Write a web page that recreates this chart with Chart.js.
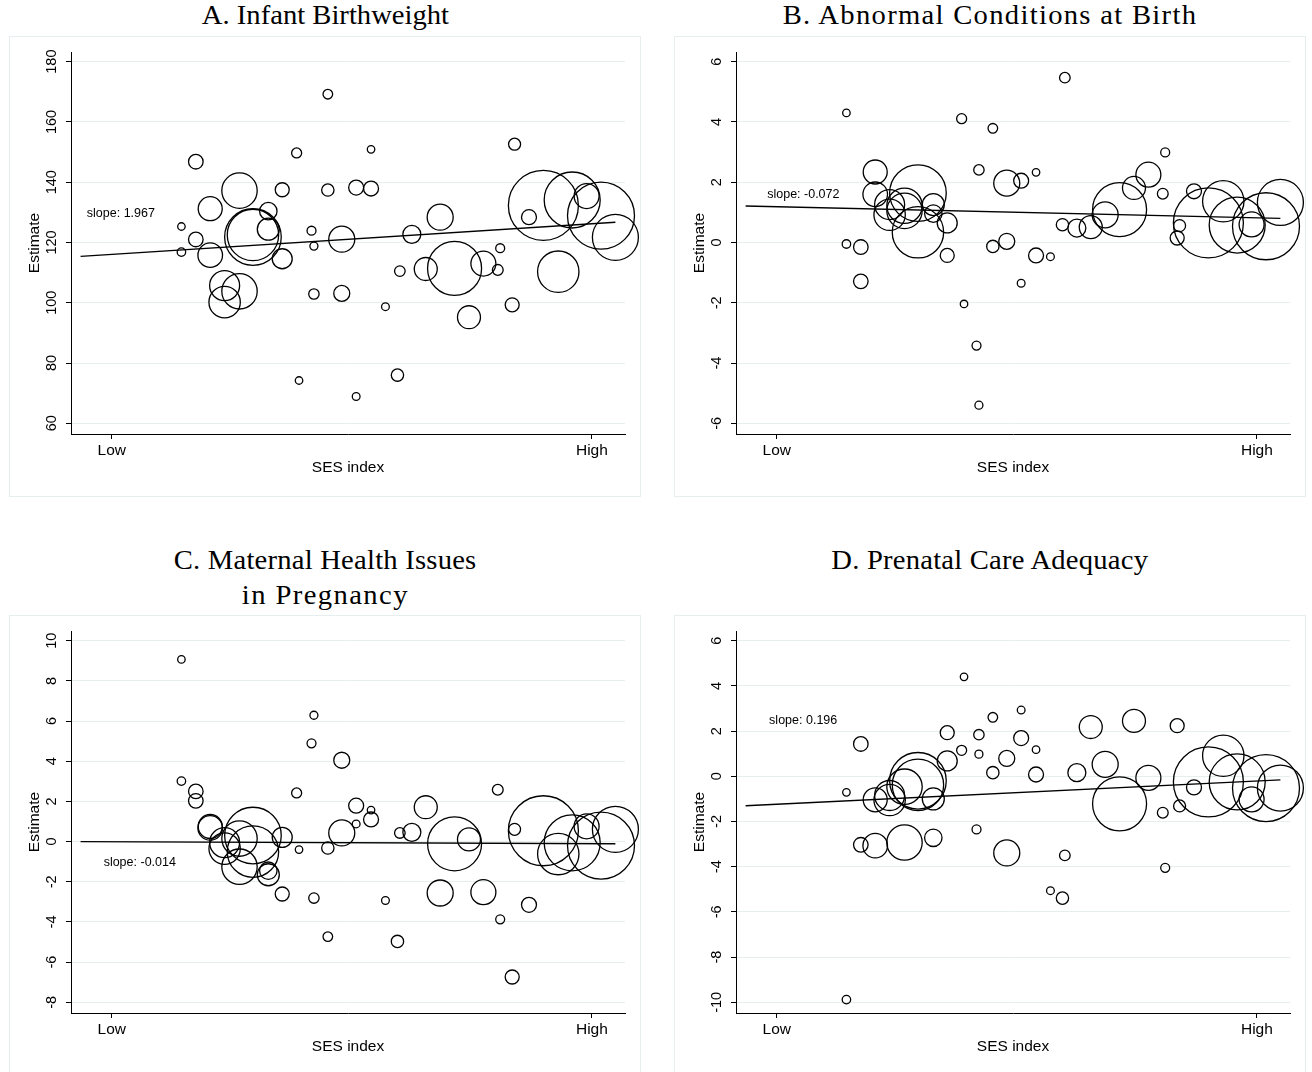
<!DOCTYPE html>
<html><head><meta charset="utf-8"><title>Estimates by SES index</title>
<script src="https://cdn.jsdelivr.net/npm/chart.js@4.4.1/dist/chart.umd.min.js"></script>
<style>
html,body{margin:0;padding:0;background:#fff;}
body{width:1312px;height:1072px;position:relative;overflow:hidden;}
.title{position:absolute;width:632px;text-align:center;font-family:"Liberation Serif","Times New Roman",serif;font-size:26.5px;line-height:35.5px;color:#000;white-space:nowrap;}
.title span{display:inline-block;transform:scaleX(1.08);transform-origin:50% 50%;}
.box{position:absolute;width:630px;height:459px;border:1px solid #e6eef0;}
.cv{position:absolute;}
</style></head><body>
<div class="title" style="left:9px;top:-1.7px"><span style="letter-spacing:0px">A. Infant Birthweight</span></div>
<div class="title" style="left:674px;top:-1.7px"><span style="letter-spacing:1.2px">B. Abnormal Conditions at Birth</span></div>
<div class="title" style="left:9px;top:542.8px"><span style="letter-spacing:0.2px">C. Maternal Health Issues</span><br><span style="letter-spacing:1.3px">in Pregnancy</span></div>
<div class="title" style="left:674px;top:542.8px"><span style="letter-spacing:0.2px">D. Prenatal Care Adequacy</span></div>

<div class="box" style="left:9px;top:36px"></div>
<div class="box" style="left:674px;top:36px"></div>
<div class="box" style="left:9px;top:615px"></div>
<div class="box" style="left:674px;top:615px"></div>
<canvas id="cA" class="cv" width="632" height="461" style="left:9px;top:36px;width:632px;height:461px"></canvas>
<canvas id="cB" class="cv" width="632" height="461" style="left:674px;top:36px;width:632px;height:461px"></canvas>
<canvas id="cC" class="cv" width="632" height="461" style="left:9px;top:615px;width:632px;height:461px"></canvas>
<canvas id="cD" class="cv" width="632" height="461" style="left:674px;top:615px;width:632px;height:461px"></canvas>
<script>
// ---- data ----
// SES index position of each unit (0 = Low, 1 = High)
const unitX = [0.145,0.145,0.175,0.175,0.205,0.205,0.235,0.235,0.266,0.266,
  0.294,0.294,0.326,0.326,0.355,0.355,0.385,0.390,0.416,0.421,
  0.421,0.450,0.450,0.479,0.479,0.509,0.509,0.540,0.540,0.570,
  0.595,0.600,0.625,0.654,0.684,0.714,0.744,0.774,0.804,0.809,
  0.834,0.839,0.869,0.899,0.930,0.959,0.989,1.019,1.049];
// analytic weight of each unit (bubble area)
const unitWeight = [14,18,53,53,144,151,225,246,313,313,
  801,660,76,121,49,100,25,14,20,16,
  27,23,38,169,64,56,15,14,56,15,
  38,28,81,132,169,729,132,156,29,20,
  49,36,56,1225,428,784,156,1122,529];
const estA = [125.3,116.8,146.8,121.0,131.2,115.8,105.7,100.2,137.2,103.8,
  121.8,122.5,130.4,124.4,137.5,114.6,149.7,74.2,123.9,118.8,
  102.9,169.2,137.4,121.1,103.1,138.2,68.9,150.9,137.9,98.7,
  76.0,110.5,122.7,111.2,128.4,111.4,95.2,113.0,110.9,118.1,
  99.3,152.6,128.4,132.3,110.3,134.1,135.4,128.9,121.7];
const estB = [4.30,-0.05,-0.15,-1.29,2.34,1.60,1.26,0.92,1.22,1.05,
  1.64,0.34,0.96,1.26,-0.43,0.65,4.11,-2.04,-3.42,-5.40,
  2.41,3.79,-0.13,1.97,0.04,2.05,-1.35,2.33,-0.43,-0.47,
  0.59,5.47,0.48,0.51,0.92,1.09,1.81,2.25,1.62,2.99,
  0.15,0.56,1.70,0.65,1.37,0.58,0.60,0.54,1.33];
const estC = [9.07,3.01,2.50,2.03,0.75,0.68,-0.05,-0.35,0.15,-1.25,
  0.30,-0.50,-1.45,-1.65,-2.61,0.21,2.42,-0.40,4.89,6.29,
  -2.81,-4.73,-0.32,0.43,4.05,1.79,0.88,1.57,1.10,-2.93,
  -4.97,0.43,0.46,1.71,-2.56,-0.11,0.11,-2.52,2.58,-3.87,
  -6.74,0.61,-3.15,0.54,-0.62,-0.06,0.76,-0.20,0.61];
const estD = [-0.71,-9.88,1.43,-3.03,-1.04,-3.07,-0.85,-1.05,-0.46,-2.93,
  -0.20,-0.38,-2.72,-1.00,1.93,0.68,1.15,4.40,-2.35,0.98,
  1.84,2.61,0.16,-3.39,0.79,1.69,2.93,1.18,0.08,-5.06,
  -5.39,-3.50,0.16,2.18,0.53,-1.22,2.45,-0.07,-1.61,-4.05,
  2.24,-1.31,-0.49,-0.25,0.91,-0.25,-1.02,-0.52,-0.52];
// fitted line end points
const fitX = [-0.065, 1.049];
const fitA = [115.4, 126.7];
const fitB = [1.21, 0.80];
const fitC = [0.00, -0.11];
const fitD = [-1.30, -0.16];
const slopes = [1.967, -0.072, -0.014, 0.196];
// tick labels
const xTickValues = [0, 1];
const xTickLabels = ['Low', 'High'];
const ticksA = [60, 80, 100, 120, 140, 160, 180];
const ticksB = [-6, -4, -2, 0, 2, 4, 6];
const ticksC = [-8, -6, -4, -2, 0, 2, 4, 6, 8, 10];
const ticksD = [-10, -8, -6, -4, -2, 0, 2, 4, 6];

// ---- drawing ----
const SANS = '"Liberation Sans", Arial, Helvetica, sans-serif';
const GRID = '#e6eef0';

const labelPlugin = {
  id: 'sesLabels',
  afterDraw(chart, args, opts) {
    const ctx = chart.ctx, ys = chart.scales.y, xs = chart.scales.x;
    ctx.save();
    ctx.fillStyle = '#000';
    ctx.font = '14.5px ' + SANS;
    ctx.textAlign = 'center';
    ctx.textBaseline = 'middle';
    opts.ticks.forEach(v => {
      ctx.save();
      ctx.translate(chart.chartArea.left - 19.3, ys.getPixelForValue(v));
      ctx.rotate(-Math.PI / 2);
      ctx.fillText(String(v), 0, 0);
      ctx.restore();
    });
    ctx.font = '12.5px ' + SANS;
    ctx.textAlign = 'left';
    ctx.fillText('slope: ' + opts.slope.toFixed(3), xs.getPixelForValue(opts.at[0]), ys.getPixelForValue(opts.at[1]));
    ctx.restore();
  }
};

function makeChart(id, est, fit, yTicks, yMin, yMax, slope, at) {
  new Chart(document.getElementById(id), {
    type: 'bubble',
    data: {
      datasets: [
        {
          type: 'bubble',
          data: unitX.map((x, i) => ({x: x, y: est[i], r: Math.sqrt(unitWeight[i])})),
          borderColor: '#000', borderWidth: 1.3, backgroundColor: 'rgba(0,0,0,0)',
          hoverRadius: 0, clip: false, order: 2
        },
        {
          type: 'line',
          data: fitX.map((x, i) => ({x: x, y: fit[i]})),
          borderColor: '#000', borderWidth: 1.4, pointRadius: 0, fill: false,
          tension: 0, clip: false, order: 1
        }
      ]
    },
    options: {
      responsive: false, animation: false, events: [],
      layout: {autoPadding: false, padding: {left: 0, top: 16, right: 16, bottom: 0}},
      plugins: {legend: {display: false}, tooltip: {enabled: false},
        sesLabels: {ticks: yTicks, slope: slope, at: at}},
      scales: {
        x: {
          type: 'linear', min: -0.085, max: 1.069,
          afterBuildTicks: s => { s.ticks = xTickValues.map(v => ({value: v})); },
          afterFit: s => { s.height = 63; },
          ticks: {callback: (v, i) => xTickLabels[i], font: {family: SANS, size: 15.5}, color: '#000',
            padding: 2, maxRotation: 0, minRotation: 0, autoSkip: false},
          grid: {drawOnChartArea: false, drawTicks: true, tickLength: 5, tickColor: '#000', tickWidth: 1},
          border: {display: true, color: '#000', width: 1},
          title: {display: true, text: 'SES index', color: '#000', font: {family: SANS, size: 15.5},
            padding: {top: 0, bottom: 20}}
        },
        y: {
          type: 'linear', min: yMin, max: yMax,
          afterBuildTicks: s => { s.ticks = yTicks.map(v => ({value: v})); },
          afterFit: s => { s.width = 62; },
          ticks: {display: false},
          grid: {color: GRID, lineWidth: 1, drawTicks: true, tickLength: 5, tickColor: '#000', tickWidth: 1},
          border: {display: true, color: '#000', width: 1},
          title: {display: true, text: 'Estimate', color: '#000', font: {family: SANS, size: 15.5},
            padding: {top: 16.3, bottom: 0}}
        }
      }
    },
    plugins: [labelPlugin]
  });
}

makeChart('cA', estA, fitA, ticksA, 56.45, 183.2, slopes[0], [-0.052, 129.7]);
makeChart('cB', estB, fitB, ticksB, -6.355, 6.322, slopes[1], [-0.020, 1.59]);
makeChart('cC', estC, fitC, ticksC, -8.533, 10.483, slopes[2], [-0.017, -1.04]);
makeChart('cD', estD, fitD, ticksD, -10.473, 6.429, slopes[3], [-0.016, 2.45]);
</script>
</body></html>
